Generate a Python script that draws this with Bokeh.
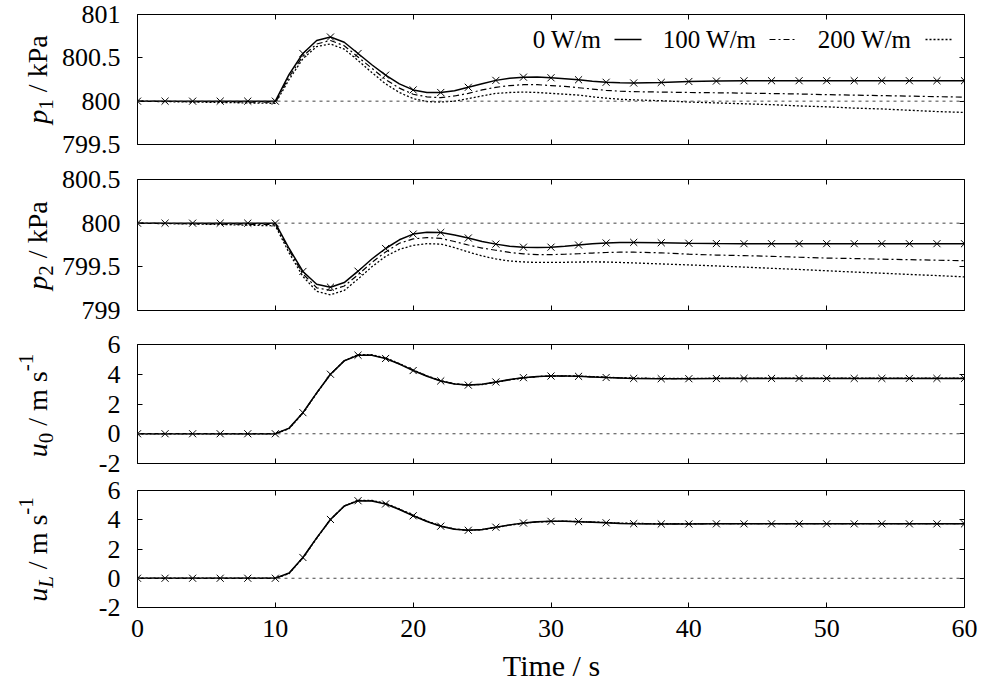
import math
from bokeh.plotting import figure
from bokeh.layouts import column, row
from bokeh.models import (LinearAxis, FixedTicker, Range1d, Label, Arrow, Span,
                          CustomJSTickFormatter)
from bokeh.embed import file_html
from bokeh.resources import INLINE

# ---------------- data ----------------
T = [0, 2, 4, 6, 8, 10, 11, 12, 13, 14, 15, 16, 17, 18, 19, 20, 21, 22, 23, 24, 25,
     26, 27, 28, 29, 30, 31, 32, 33, 34, 35, 36, 38, 40, 42, 44, 46, 48, 50, 52, 54,
     56, 58, 60]

P1_0W = [800, 800, 800, 800, 800, 800,
         800.31, 800.55, 800.70, 800.74, 800.68, 800.55, 800.42, 800.30, 800.20, 800.13,
         800.10, 800.10, 800.12, 800.16, 800.20, 800.24, 800.265, 800.277, 800.278, 800.27,
         800.26, 800.247, 800.23, 800.218, 800.212, 800.21,
         800.216, 800.227, 800.232, 800.235, 800.236, 800.236, 800.236, 800.236, 800.236,
         800.236, 800.236, 800.236]
P1_100W = [800, 799.998, 799.995, 799.993, 799.99, 799.988,
           800.28, 800.52, 800.66, 800.70, 800.64, 800.51, 800.38, 800.25, 800.15, 800.08,
           800.05, 800.04, 800.06, 800.09, 800.13, 800.16, 800.18, 800.19, 800.19, 800.18,
           800.17, 800.155, 800.14, 800.125, 800.115, 800.11,
           800.105, 800.10, 800.097, 800.093, 800.088, 800.083, 800.075, 800.07, 800.064,
           800.058, 800.052, 800.046]
P1_200W = [800, 799.995, 799.99, 799.985, 799.98, 799.975,
           800.25, 800.49, 800.63, 800.66, 800.60, 800.47, 800.33, 800.20, 800.10, 800.03,
           799.995, 799.99, 800.00, 800.03, 800.06, 800.09, 800.10, 800.105, 800.10, 800.09,
           800.08, 800.07, 800.05, 800.035, 800.022, 800.015,
           800.005, 799.99, 799.98, 799.97, 799.96, 799.945, 799.935, 799.92, 799.91,
           799.895, 799.88, 799.87]

P2_0W = [800, 800, 800, 800, 800, 800,
         799.71, 799.447, 799.30, 799.267, 799.32, 799.45, 799.59, 799.71, 799.81, 799.875,
         799.895, 799.893, 799.865, 799.83, 799.79, 799.76, 799.737, 799.725, 799.72, 799.725,
         799.737, 799.75, 799.763, 799.773, 799.778, 799.78,
         799.776, 799.77, 799.766, 799.765, 799.765, 799.765, 799.765, 799.765, 799.765,
         799.765, 799.765, 799.765]
P2_100W = [800, 799.997, 799.994, 799.99, 799.987, 799.985,
           799.69, 799.42, 799.26, 799.23, 799.28, 799.41, 799.55, 799.67, 799.77, 799.82,
           799.835, 799.825, 799.79, 799.75, 799.715, 799.69, 799.665, 799.648, 799.64, 799.64,
           799.644, 799.65, 799.658, 799.664, 799.668, 799.668,
           799.66, 799.645, 799.635, 799.628, 799.62, 799.61, 799.60, 799.595, 799.588,
           799.582, 799.576, 799.57]
P2_200W = [800, 799.995, 799.99, 799.985, 799.977, 799.97,
           799.66, 799.39, 799.22, 799.18, 799.23, 799.36, 799.50, 799.62, 799.70, 799.745,
           799.765, 799.76, 799.72, 799.67, 799.625, 799.59, 799.567, 799.556, 799.55, 799.55,
           799.552, 799.555, 799.556, 799.555, 799.55, 799.545,
           799.533, 799.522, 799.51, 799.497, 799.483, 799.47, 799.455, 799.44, 799.427,
           799.413, 799.40, 799.385]

U0_0W = [0, 0, 0, 0, 0, 0,
         0.38, 1.42, 2.75, 4.00, 4.90, 5.28, 5.27, 5.06, 4.68, 4.25,
         3.87, 3.55, 3.34, 3.27, 3.33, 3.48, 3.64, 3.77, 3.85, 3.88,
         3.88, 3.86, 3.82, 3.78, 3.75, 3.72,
         3.70, 3.70, 3.71, 3.72, 3.72, 3.72, 3.72, 3.72, 3.72, 3.72, 3.72, 3.72]
U0_100W = [0, 0, 0, 0, 0, 0,
           0.36, 1.40, 2.74, 4.00, 4.91, 5.30, 5.29, 5.08, 4.70, 4.27,
           3.88, 3.56, 3.35, 3.27, 3.32, 3.47, 3.63, 3.76, 3.84, 3.88,
           3.88, 3.86, 3.83, 3.79, 3.75, 3.73,
           3.71, 3.71, 3.72, 3.72, 3.73, 3.73, 3.73, 3.73, 3.73, 3.73, 3.73, 3.73]
U0_200W = [0, 0, 0, 0, 0, 0,
           0.34, 1.38, 2.72, 3.99, 4.91, 5.31, 5.31, 5.10, 4.72, 4.29,
           3.90, 3.57, 3.36, 3.27, 3.31, 3.46, 3.62, 3.75, 3.84, 3.88,
           3.89, 3.87, 3.84, 3.80, 3.76, 3.74,
           3.72, 3.72, 3.73, 3.74, 3.74, 3.74, 3.74, 3.74, 3.74, 3.74, 3.74, 3.74]

UL_0W = [0, 0, 0, 0, 0, 0,
         0.36, 1.42, 2.76, 4.02, 4.93, 5.30, 5.28, 5.08, 4.70, 4.27,
         3.88, 3.56, 3.35, 3.28, 3.34, 3.49, 3.65, 3.78, 3.86, 3.89,
         3.89, 3.87, 3.83, 3.79, 3.75, 3.73,
         3.71, 3.71, 3.72, 3.72, 3.72, 3.72, 3.72, 3.72, 3.72, 3.72, 3.72, 3.72]
UL_100W = [0, 0, 0, 0, 0, 0,
           0.34, 1.40, 2.75, 4.02, 4.94, 5.32, 5.30, 5.10, 4.72, 4.29,
           3.89, 3.57, 3.36, 3.28, 3.33, 3.48, 3.64, 3.77, 3.85, 3.89,
           3.89, 3.87, 3.84, 3.80, 3.76, 3.74,
           3.72, 3.72, 3.73, 3.73, 3.73, 3.73, 3.73, 3.73, 3.73, 3.73, 3.73, 3.73]
UL_200W = [0, 0, 0, 0, 0, 0,
           0.32, 1.38, 2.73, 4.01, 4.94, 5.33, 5.32, 5.12, 4.74, 4.31,
           3.91, 3.58, 3.37, 3.28, 3.32, 3.47, 3.63, 3.76, 3.85, 3.89,
           3.90, 3.88, 3.85, 3.81, 3.77, 3.75,
           3.73, 3.73, 3.74, 3.74, 3.74, 3.74, 3.74, 3.74, 3.74, 3.74, 3.74, 3.74]

SERIES_NAMES = ["0 W/m", "100 W/m", "200 W/m"]
X_TICKS = [0, 10, 20, 30, 40, 50, 60]
X_TICK_LABELS = ["0", "10", "20", "30", "40", "50", "60"]
P1_TICKS = [799.5, 800, 800.5, 801]
P1_TICK_LABELS = ["799.5", "800", "800.5", "801"]
P2_TICKS = [799, 799.5, 800, 800.5]
P2_TICK_LABELS = ["799", "799.5", "800", "800.5"]
U_TICKS = [-2, 0, 2, 4, 6]
U_TICK_LABELS = ["-2", "0", "2", "4", "6"]
REF_LEVELS = [800, 800, 0, 0]
X_TITLE = "Time / s"

# ---------------- style ----------------
FONT = "Liberation Serif"
TICK_FS = 26
LAB_FS = 28
XT_FS = 30
LEG_FS = 25
LABEL_W = 58          # width of the strip that holds the rotated y titles
B_LEFT = 78
B_RIGHT = 18
FIG_W = B_LEFT + 828 + B_RIGHT
TOTAL_H = 682
DASHES = ["solid", "6 3 2 3", "2 2"]
WIDTHS = [1.5, 1.2, 1.3]

# Times / Liberation Serif advance widths (em)
REG_W = {" ": .25, "/": .278, "k": .5, "P": .556, "a": .444, "m": .778, "s": .389,
         "-": .333, "0": .5, "1": .5, "2": .5}
ITA_W = {"p": .5, "u": .5, "L": .556}


def text_w(s, italic, size):
    tbl = ITA_W if italic else REG_W
    return sum(tbl.get(c, .5) for c in s) * size


def fmt(tv, tl):
    return CustomJSTickFormatter(args=dict(tv=list(tv), tl=list(tl)), code="""
        const i = tv.findIndex((t) => Math.abs(t - tick) < 1e-6);
        return i >= 0 ? tl[i] : "";
    """)


def blank():
    return CustomJSTickFormatter(code="return '';")


def style(ax, fs):
    ax.major_tick_in = 5
    ax.major_tick_out = 0
    ax.minor_tick_line_color = None
    ax.axis_line_color = None
    ax.major_tick_line_color = "black"
    ax.major_label_text_font = FONT
    ax.major_label_text_font_style = "normal"
    ax.major_label_text_font_size = fs
    ax.major_label_text_color = "black"


def add_axes(p, yt, yl, show_x):
    left = LinearAxis(ticker=FixedTicker(ticks=yt), formatter=fmt(yt, yl))
    style(left, f"{TICK_FS}px")
    left.major_label_standoff = 17
    p.add_layout(left, "left")

    right = LinearAxis(ticker=FixedTicker(ticks=yt), formatter=blank())
    style(right, "1px")
    right.major_label_standoff = 0
    p.add_layout(right, "right")

    top = LinearAxis(ticker=FixedTicker(ticks=X_TICKS), formatter=blank())
    style(top, "1px")
    top.major_label_standoff = 0
    p.add_layout(top, "above")

    if show_x:
        bot = LinearAxis(ticker=FixedTicker(ticks=X_TICKS), formatter=fmt(X_TICKS, X_TICK_LABELS))
        style(bot, f"{TICK_FS}px")
        bot.major_label_standoff = 12
    else:
        bot = LinearAxis(ticker=FixedTicker(ticks=X_TICKS), formatter=blank())
        style(bot, "1px")
        bot.major_label_standoff = 0
    p.add_layout(bot, "below")


def bare_fig(w, h):
    f = figure(width=w, height=h, x_range=Range1d(0, 1), y_range=Range1d(0, 1),
               output_backend="svg", toolbar_location=None,
               x_axis_location=None, y_axis_location=None,
               min_border_left=0, min_border_right=0, min_border_top=0, min_border_bottom=0)
    f.grid.visible = False
    f.outline_line_color = None
    f.background_fill_color = "white"
    f.border_fill_color = "white"
    return f


def make_panel(series, yr, yt, yl, ref, height, btop, bbot, show_x=False):
    p = figure(width=FIG_W, height=height, x_range=Range1d(0, 60), y_range=Range1d(*yr),
               output_backend="svg", toolbar_location=None,
               x_axis_location=None, y_axis_location=None,
               min_border_left=B_LEFT, min_border_right=B_RIGHT,
               min_border_top=btop, min_border_bottom=bbot)
    p.grid.visible = False
    p.outline_line_color = "black"
    p.outline_line_width = 1
    p.outline_line_alpha = 1
    p.background_fill_color = "white"
    p.border_fill_color = "white"
    add_axes(p, yt, yl, show_x)
    p.add_layout(Span(location=ref, dimension="width", line_color="#444444",
                      line_width=1, line_dash="3 4"))
    for vals, dash, w in zip(series, DASHES, WIDTHS):
        p.line(T, vals, line_color="black", line_width=w, line_dash=dash)
    mt = [t for t in T if t % 2 == 0]
    mv = [v for t, v in zip(T, series[0]) if t % 2 == 0]
    p.scatter(mt, mv, marker="x", size=10, line_color="black", line_width=1)
    return p


# panel heights: (figure height, top border, bottom border); frames 130/131/119/117 px
p1 = make_panel([P1_0W, P1_100W, P1_200W], (799.5, 801), P1_TICKS, P1_TICK_LABELS,
                REF_LEVELS[0], 162, 14, 18)
p2 = make_panel([P2_0W, P2_100W, P2_200W], (799, 800.5), P2_TICKS, P2_TICK_LABELS,
                REF_LEVELS[1], 165, 17, 17)
p3 = make_panel([U0_0W, U0_100W, U0_200W], (-2, 6), U_TICKS, U_TICK_LABELS,
                REF_LEVELS[2], 150, 17, 14)
p4 = make_panel([UL_0W, UL_100W, UL_200W], (-2, 6), U_TICKS, U_TICK_LABELS,
                REF_LEVELS[3], 173, 13, 43, show_x=True)

# x title strip (its frame is aligned with the panels' frames by the column layout)
XT_H = TOTAL_H - (162 + 165 + 150 + 173)
xt = bare_fig(FIG_W, XT_H)
xt.add_layout(Label(x=414, y=XT_H - 15, x_units="screen", y_units="screen",
                    text=X_TITLE, text_align="center", text_baseline="middle",
                    text_font=FONT, text_font_size=f"{XT_FS}px", text_color="black"))

# rotated y titles strip (pieces: text, italic, scale, shift(em, + = up), gap before(em))
yl_fig = bare_fig(LABEL_W, TOTAL_H)
Y_TITLES = [
    ([("p", True, 1, 0, 0), ("1", False, .75, -.3, 0), ("/ kPa", False, 1, 0, .25)], 79),
    ([("p", True, 1, 0, 0), ("2", False, .75, -.3, 0), ("/ kPa", False, 1, 0, .25)], 245),
    ([("u", True, 1, 0, 0), ("0", False, .75, -.3, 0), ("/ m s", False, 1, 0, .25),
      ("-1", False, .75, .42, 0)], 405),
    ([("u", True, 1, 0, 0), ("L", True, .75, -.3, 0), ("/ m s", False, 1, 0, .25),
      ("-1", False, .75, .42, 0)], 549),
]
BASE_X = 37
for pieces, page_y in Y_TITLES:
    total = sum(g * LAB_FS + text_w(t, it, LAB_FS * sc) for t, it, sc, sh, g in pieces)
    y = (TOTAL_H - page_y) - total / 2
    for t, it, sc, sh, g in pieces:
        y += g * LAB_FS
        yl_fig.add_layout(Label(x=BASE_X - sh * LAB_FS, y=y, x_units="screen", y_units="screen",
                                text=t, angle=math.pi / 2, text_align="left",
                                text_baseline="alphabetic", text_font=FONT,
                                text_font_style="italic" if it else "normal",
                                text_font_size=f"{LAB_FS * sc:.1f}px", text_color="black"))
        y += text_w(t, it, LAB_FS * sc)

# legend (text, then line sample) in panel 1, frame-relative pixels
LEG_TEXT_RIGHT = [464, 619, 774]
LEG_SAMPLE = [(477, 504), (632, 659), (788, 814)]
LEG_Y = 105
for name, xr, (xs, xe), dash, w in zip(SERIES_NAMES, LEG_TEXT_RIGHT, LEG_SAMPLE, DASHES, WIDTHS):
    p1.add_layout(Label(x=xr, y=LEG_Y, x_units="screen", y_units="screen", text=name,
                        text_align="right", text_baseline="middle", text_font=FONT,
                        text_font_size=f"{LEG_FS}px", text_color="black"))
    p1.add_layout(Arrow(start=None, end=None, x_start=xs, y_start=LEG_Y, x_end=xe, y_end=LEG_Y,
                        start_units="screen", end_units="screen", line_color="black",
                        line_width=w, line_dash=dash))

layout = row(yl_fig, column(p1, p2, p3, p4, xt, spacing=0), spacing=0)
open("out.html", "w").write(file_html(layout, INLINE))
